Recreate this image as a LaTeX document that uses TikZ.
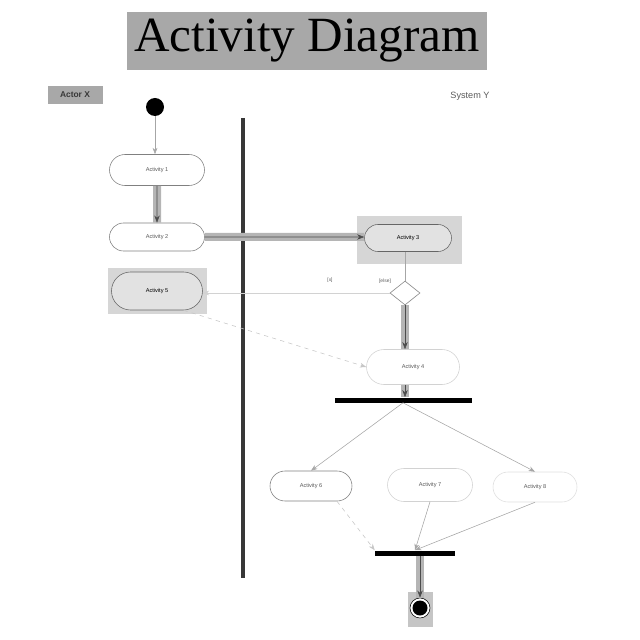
\documentclass[tikz,border=0pt]{standalone}
\usepackage{fontspec}
\setmainfont{Liberation Serif}
\setsansfont{Liberation Sans}
\usetikzlibrary{arrows.meta, positioning, shapes.misc, shapes.geometric}
\definecolor{TitleGray}{RGB}{168, 168, 168}
\definecolor{ShadeGray}{RGB}{214, 214, 214}
\definecolor{LaneDark}{RGB}{55, 55, 55}
\definecolor{FlowGray}{RGB}{150, 150, 150}
\definecolor{LabelGray}{RGB}{90, 90, 90}

\begin{document}
\begin{tikzpicture}[x=0.25mm,y=-0.25mm,
    act/.style={draw=gray, rounded rectangle, inner sep=0pt, fill=white, text=LabelGray,
                font=\sffamily\fontsize{4}{5}\selectfont},
    actlight/.style={act, draw=gray!35},
    actshade/.style={act, draw=gray!80!black, fill=ShadeGray!70, text=black},
    shadebox/.style={fill=ShadeGray, inner sep=0pt},
    bar/.style={fill=black, inner sep=0pt, minimum height=1.25mm},
    guard/.style={font=\sffamily\fontsize{3.5}{4}\selectfont, text=LabelGray},
    flow/.style={draw=gray!60!black, -{Stealth[length=1.8mm]},
                 preaction={draw=FlowGray!70, line width=2mm, -}},
    link/.style={draw=gray!70, -{Stealth[length=1.6mm]}},
    faint/.style={draw=gray!45, dashed, -{Stealth[length=1.6mm]}}]
  \useasboundingbox (0,0) rectangle (640,640);
  % heading and lanes
  \node[fill=TitleGray, minimum width=90mm, minimum height=14.5mm, inner sep=0pt,
        font=\fontsize{35}{36}\selectfont] (title) at (307,41) {Activity Diagram};
  \node[fill=TitleGray, minimum width=13.75mm, minimum height=4.5mm, inner sep=0pt,
        font=\sffamily\bfseries\fontsize{6}{7}\selectfont, text=LaneDark] (actorx) at (75,95) {Actor X};
  \node[font=\sffamily\fontsize{6.5}{7}\selectfont, text=LabelGray] (systemy) at (470,96) {System Y};
  \coordinate (laneTop) at (243,118);
  \coordinate (laneBot) at (243,578);
  \draw[LaneDark, line width=1mm] (laneTop) -- (laneBot);
  % left lane
  \node[circle, fill=black, minimum size=4.5mm, inner sep=0pt] (start) at (155,107) {};
  \node[act, minimum width=23.75mm, minimum height=7.75mm] (act1) at (157,170) {Activity 1};
  \node[act, minimum width=23.75mm, minimum height=7mm] (act2) at (157,237) {Activity 2};
  \node[shadebox, minimum width=24.75mm, minimum height=11.25mm] (act5bg) at (157,291) {};
  \node[actshade, minimum width=22.75mm, minimum height=9.5mm] (act5) at (157,291) {Activity 5};
  % right lane
  \node[shadebox, minimum width=26.25mm, minimum height=11.75mm] (act3bg) at (409,240) {};
  \node[actshade, minimum width=21.75mm, minimum height=6.75mm] (act3) at (408,238) {Activity 3};
  \node[diamond, draw=gray, fill=white, minimum width=7.5mm, minimum height=6mm,
        inner sep=0pt] (decide) at (405,293) {};
  \node[guard] (guardx) at (330,280) {[x]};
  \node[guard] (guardelse) at (385,281) {[else]};
  \node[actlight, minimum width=23.25mm, minimum height=8.75mm] (act4) at (413,367) {Activity 4};
  \node[bar, minimum width=34.25mm] (fork) at (403,400) {};
  \node[act, minimum width=20.5mm, minimum height=7.5mm] (act6) at (311,486) {Activity 6};
  \node[actlight, minimum width=21.25mm, minimum height=8.25mm] (act7) at (430,485) {Activity 7};
  \node[actlight, draw=gray!25, minimum width=21mm, minimum height=7.5mm] (act8) at (535,487) {Activity 8};
  \node[bar, minimum width=20mm] (join) at (415,553) {};
  \node[fill=ShadeGray!80!gray, minimum width=6.25mm, minimum height=8.75mm, inner sep=0pt] (finalbg) at (420,609) {};
  \node[circle, draw=black, fill=white, minimum size=5mm, inner sep=0pt] (final) at (420,608) {};
  \fill[black] (final) circle (7.5);
  % flows
  \draw[link] (start) -- (start |- act1.north);
  \draw[flow] (act1) -- (act2);
  \draw[flow] (act2) -- (act2 -| act3.west);
  \draw[draw=gray!70] (decide |- act3.south) -- (decide);
  \draw[flow] (decide) -- (decide |- act4.north);
  \draw[faint, solid, draw=gray!35] (decide) -- (decide -| act5.east);
  \draw[faint] (act5.south east) -- (act4.west);
  \draw[flow] (decide |- act4.south) -- (decide |- fork.north);
  \draw[link] (fork.south) -- (act6.north);
  \draw[link] (fork.south) -- (act8.north);
  \draw[faint] (act6.south east) -- (join.north west);
  \draw[link] (act7.south) -- (join.north);
  \draw[link] (act8.south) -- (join.north);
  \draw[flow] (final |- join.south) -- (final);
\end{tikzpicture}
\end{document}
